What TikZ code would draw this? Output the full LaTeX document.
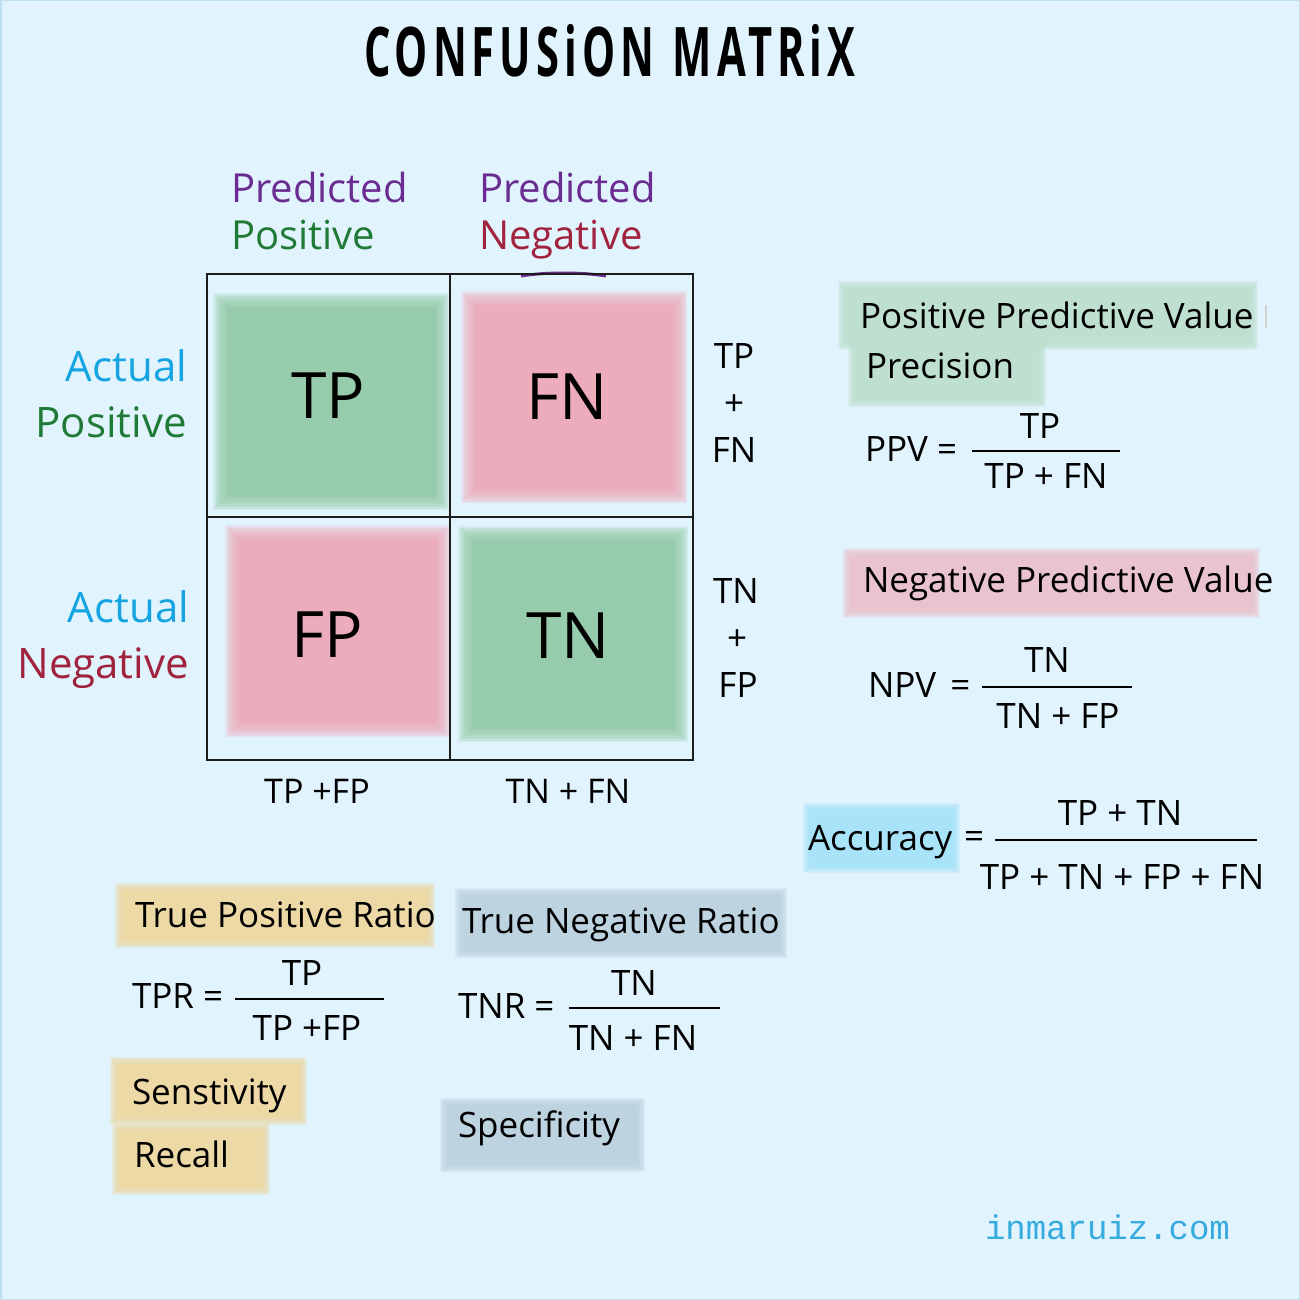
\documentclass[tikz,border=0pt]{standalone}
\usepackage{fontspec}
\setmainfont{Open Sans}
\setmonofont{Liberation Mono}
\usepackage{graphicx}
\newcommand\fsz[1]{\fontsize{#1}{#1}\selectfont}
\definecolor{bgc}{HTML}{E1F3FD}
\definecolor{edgec}{HTML}{BFE0F0}
\definecolor{purp}{HTML}{6A2C91}
\definecolor{grn}{HTML}{1F7A35}
\definecolor{crim}{HTML}{A0223D}
\definecolor{skyb}{HTML}{15A4E2}
\definecolor{cellg}{HTML}{96CCAB}
\definecolor{cellp}{HTML}{EDACBB}
\definecolor{hlgreen}{HTML}{BFE0D1}
\definecolor{hlpink}{HTML}{E9C4CF}
\definecolor{hlblue}{HTML}{A8E3F9}
\definecolor{hlyel}{HTML}{ECD9A6}
\definecolor{hlgrey}{HTML}{BDD3E0}
\definecolor{linec}{HTML}{1C1C1C}
\definecolor{webc}{HTML}{35ABE0}
\newcommand\softbox[5]{%
  \foreach \k in {0,1.5,...,12}{%
    \fill[#5,opacity=0.2] (#1+\k,#2+\k) rectangle (#3-\k,#4-\k);}%
  \fill[#5] (#1+13.5,#2+13.5) rectangle (#3-13.5,#4-13.5);}
\newcommand\softstripe[5]{%
  \foreach \k in {0,1,...,6}{%
    \fill[#5,opacity=0.25] (#1+\k,#2+\k) rectangle (#3-\k,#4-\k);}%
  \fill[#5] (#1+7,#2+7) rectangle (#3-7,#4-7);}
\begin{document}
\begin{tikzpicture}[x=1pt,y=-1pt,
  txt/.style={inner sep=0pt, outer sep=0pt, text=black, font=\fsz{35}},
  big/.style={txt, font=\fsz{64}},
  head/.style={txt, font=\fsz{40}},
  side/.style={txt, font=\fsz{42}},
  sum/.style={txt, font=\fsz{35}},
  bar/.style={draw=black, line width=1.8pt},
  grid/.style={draw=linec, line width=2.5pt}]
\useasboundingbox (0,0) rectangle (1300,1300);
\fill[bgc] (0,0) rectangle (1300,1300);
\draw[edgec, line width=1.5pt] (0.75,0.75) rectangle (1299.25,1299.25);

% title
\node[inner sep=0pt, anchor=south west] (title) at (364,77)
  {\resizebox{491pt}{52pt}{\bfseries\addfontfeature{LetterSpace=12}CONFUSiON\hspace{0.45em}MATRiX}};

% column / row headers
\node[head, text=purp, anchor=base west] (pp1) at (231,203) {Predicted};
\node[head, text=grn,  anchor=base west] (pp2) at (231,249) {Positive};
\node[head, text=purp, anchor=base west] (pn1) at (479,203) {Predicted};
\node[head, text=crim, anchor=base west] (pn2) at (479,249) {Negative};
\node[side, text=skyb, anchor=base east] (ap1) at (187,381) {Actual};
\node[side, text=grn,  anchor=base east] (ap2) at (187,437) {Positive};
\node[side, text=skyb, anchor=base east] (an1) at (189,622) {Actual};
\node[side, text=crim, anchor=base east] (an2) at (189,678) {Negative};

% cells
\softbox{213}{293}{449}{510}{cellg}
\softbox{461}{291}{687}{503}{cellp}
\softbox{225}{525}{450}{737}{cellp}
\softbox{458}{526}{688}{742}{cellg}
\draw[purp, line width=3pt] (521,276) .. controls (545,272) and (582,272) .. (606,276);
\draw[grid] (207,274) rectangle (693,760);
\draw[grid] (450,274) -- (450,760);
\draw[grid] (207,517) -- (693,517);
\node[big, anchor=base] (tp) at (328,418) {TP};
\node[big, anchor=base] (fn) at (567,419) {FN};
\node[big, anchor=base] (fp) at (327,657) {FP};
\node[big, anchor=base] (tn) at (568,658) {TN};

% row sums
\node[sum, anchor=base] (r1a) at (734,368) {TP};
\node[sum, anchor=center] (r1b) at (734,405) {+};
\node[sum, anchor=base] (r1c) at (734,462) {FN};
\node[sum, anchor=base] (r2a) at (736,603) {TN};
\node[sum, anchor=center] (r2b) at (737,640) {+};
\node[sum, anchor=base] (r2c) at (738,697) {FP};
% column sums
\node[txt, font=\fsz{34}, anchor=base] (c1) at (317,803) {TP +FP};
\node[txt, font=\fsz{34}, anchor=base] (c2) at (568,803) {TN + FN};

% PPV
\softstripe{838}{281}{1258}{350}{hlgreen}
\softstripe{848}{340}{1046}{407}{hlgreen}
\node[txt, anchor=base west] (ppvt) at (860,328) {Positive Predictive Value};
\draw[gray!35, line width=1.5pt] (1266,305) -- (1266,328);
\node[txt, anchor=base west] (prec) at (866,378) {Precision};
\node[txt, anchor=base west] (ppv) at (865,461) {PPV =};
\node[txt, anchor=base] (ppvn) at (1040,438) {TP};
\node[txt, anchor=base] (ppvd) at (1046,488) {TP + FN};
\draw[bar] (972,451) -- (1120,451);

% NPV
\softstripe{843}{548}{1260}{618}{hlpink}
\node[txt, anchor=base west] (npvt) at (863,592) {Negative Predictive Value};
\node[txt, anchor=base west] (npv) at (868,697) {NPV\hspace{14pt}=};
\node[txt, anchor=base] (npvn) at (1047,672) {TN};
\node[txt, anchor=base] (npvd) at (1058,728) {TN + FP};
\draw[bar] (982,687) -- (1132,687);

% Accuracy
\softstripe{803}{803}{960}{873}{hlblue}
\node[txt, anchor=base west] (acc) at (808,850) {Accuracy};
\node[txt, anchor=center] (acceq) at (974,840) {=};
\node[txt, anchor=base] (accn) at (1120,825) {TP + TN};
\node[txt, anchor=base] (accd) at (1122,889) {TP + TN + FP + FN};
\draw[bar] (995,840) -- (1257,840);

% TPR
\softstripe{115}{883}{435}{948}{hlyel}
\node[txt, anchor=base west] (tprt) at (135,927) {True Positive Ratio};
\node[txt, anchor=base west] (tpr) at (132,1008) {TPR =};
\node[txt, anchor=base] (tprn) at (302,985) {TP};
\node[txt, anchor=base] (tprd) at (307,1040) {TP +FP};
\draw[bar] (235,999) -- (384,999);
\softstripe{110}{1057}{307}{1125}{hlyel}
\softstripe{112}{1123}{270}{1195}{hlyel}
\node[txt, anchor=base west] (sens) at (132,1104) {Senstivity};
\node[txt, anchor=base west] (rec) at (134,1167) {Recall};

% TNR
\softstripe{455}{888}{787}{958}{hlgrey}
\node[txt, anchor=base west] (tnrt) at (462,933) {True Negative Ratio};
\node[txt, anchor=base west] (tnr) at (458,1018) {TNR =};
\node[txt, anchor=base] (tnrn) at (634,995) {TN};
\node[txt, anchor=base] (tnrd) at (633,1050) {TN + FN};
\draw[bar] (569,1008) -- (720,1008);
\softstripe{440}{1098}{645}{1172}{hlgrey}
\node[txt, anchor=base west] (spec) at (458,1137) {Specificity};

% website
\node[txt, text=webc, font=\fsz{34}\ttfamily, anchor=base west] (web) at (985,1239) {inmaruiz.com};
\end{tikzpicture}
\end{document}
